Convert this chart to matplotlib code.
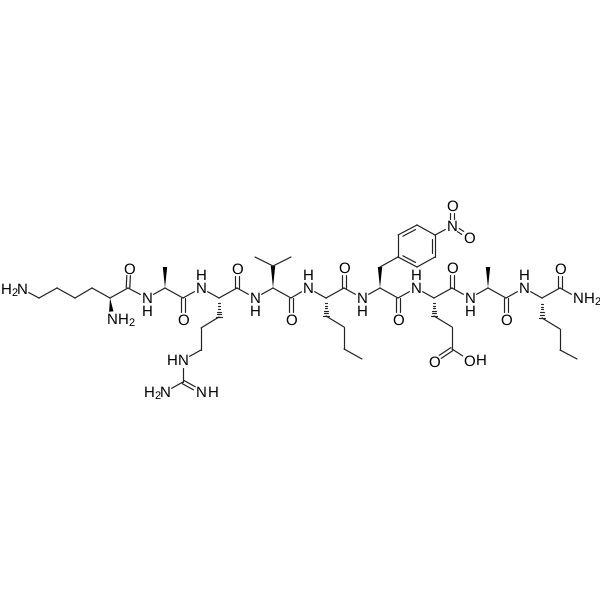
import math
import matplotlib
matplotlib.use("Agg")
import matplotlib.pyplot as plt

plt.rcParams['font.family'] = ['Liberation Sans', 'DejaVu Sans']
plt.rcParams['text.hinting'] = 'no_hinting'
plt.rcParams['text.hinting_factor'] = 1

atoms = {
 'N1':(22,289),'c1':(39,298),'c2':(57,288),'c3':(75,298),'c4':(92,288),'a1':(110,298),'N1a':(112,319),
 'C1':(128,288),'O1':(129,268),'N2':(147,298),
 'a2':(165,288),'m2':(165,267),'C2':(183,298),'O2':(183,319),'N3':(201,288),
 'a3':(219,298),'C3':(237,288),'O3':(237,268),'r1':(219,317),'r2':(201,328),'r3':(201,350),
 'Ng':(183,360),'Cg':(183,382),'Ng2':(165,392),'Ng3':(201,392),
 'N4':(255,298),'a4':(273,288),'v1':(273,266),'v2':(255,257),'v3':(291,257),
 'C4':(291,298),'O4':(291,319),'N5':(308,288),
 'a5':(326,298),'C5':(344,288),'O5':(344,267),'n1':(326,316),'n2':(344,327),'n3':(344,349),'n4':(362,359),
 'N6':(362,298),'a6':(380,288),'b6':(380,267),
 'r6a':(398,257),'r6b':(398,235),'r6c':(417,225),'r6d':(435,235),'r6e':(435,257),'r6f':(417,267),
 'Nn':(452,226),'On1':(452,205),'On2':(469,237),
 'C6':(398,298),'O6':(398,319),'N7':(416,288),
 'a7':(434,298),'C7':(452,288),'O7':(452,267),'g1':(434,316),'g2':(452,327),'g3':(452,349),
 'Og1':(434,361),'Og2':(469,360),
 'N8':(470,298),'a8':(488,288),'m8':(488,267),'C8':(506,298),'O8':(506,319),'N9':(524,288),
 'a9':(542,298),'C9':(560,288),'O9':(560,268),'N10':(578,298),
 's1':(542,318),'s2':(560,329),'s3':(560,350),'s4':(577,359),
}

single_bonds = [
 ('N1','c1'),('c1','c2'),('c2','c3'),('c3','c4'),('c4','a1'),('a1','C1'),('C1','N2'),('N2','a2'),
 ('a2','C2'),('C2','N3'),('N3','a3'),('a3','C3'),('C3','N4'),('r1','r2'),('r2','r3'),('r3','Ng'),
 ('Ng','Cg'),('Cg','Ng2'),('N4','a4'),('a4','C4'),('v1','v2'),('v1','v3'),('C4','N5'),('N5','a5'),
 ('a5','C5'),('C5','N6'),('n1','n2'),('n2','n3'),('n3','n4'),('N6','a6'),('a6','C6'),('b6','r6a'),
 ('r6d','Nn'),('C6','N7'),('N7','a7'),('a7','C7'),('C7','N8'),('g1','g2'),('g2','g3'),('g3','Og2'),
 ('N8','a8'),('a8','C8'),('C8','N9'),('N9','a9'),('a9','C9'),('C9','N10'),('s1','s2'),('s2','s3'),('s3','s4'),
 ('r6a','r6b'),('r6b','r6c'),('r6c','r6d'),('r6d','r6e'),('r6e','r6f'),('r6f','r6a'),
]
double_bonds = [('C1','O1'),('C2','O2'),('C3','O3'),('C4','O4'),('C5','O5'),('C6','O6'),('C7','O7'),
 ('C8','O8'),('C9','O9'),('Cg','Ng3'),('Nn','On1'),('Nn','On2'),('g3','Og1')]
ring_inner = [('r6b','r6c'),('r6d','r6e'),('r6f','r6a')]
ring_center = ('r6c','r6f')
wedge_bonds = [('a1','N1a'),('a2','m2'),('a4','v1'),('a6','b6'),('a8','m8')]
hash_bonds = [('a3','r1'),('a5','n1'),('a7','g1'),('a9','s1')]

labels_plain = {'N1':'N','N1a':'N','O1':'O','N2':'N','O2':'O','N3':'N','O3':'O','Ng':'N','Ng2':'N','Ng3':'N',
 'N4':'N','O4':'O','N5':'N','O5':'O','N6':'N','Nn':'N','On1':'O','On2':'O','O6':'O','N7':'N','O7':'O',
 'Og1':'O','Og2':'O','N8':'N','O8':'O','N9':'N','O9':'O','N10':'N'}
h_below = ['N2','N4','N6','N8']
h_above = ['N3','N5','N7','N9']
h_left = ['Ng']
h_right = ['Ng3','Og2']
h2_right = ['N1a','N10']
h2_left = ['N1','Ng2']

fig = plt.figure(figsize=(6,6), dpi=100)
ax = fig.add_axes([0,0,1,1])
ax.set_xlim(0,600); ax.set_ylim(600,0); ax.axis('off')

INK = '#222222'
LW = 0.85
GAP = 7.5

def ends(a, b):
    (x1,y1),(x2,y2) = atoms[a],atoms[b]
    L = math.hypot(x2-x1,y2-y1); ux,uy = (x2-x1)/L,(y2-y1)/L
    g1 = GAP if a in labels_plain else 0
    g2 = GAP if b in labels_plain else 0
    return x1+ux*g1,y1+uy*g1,x2-ux*g2,y2-uy*g2,ux,uy

def seg(x1,y1,x2,y2):
    ax.plot([x1,x2],[y1,y2],color=INK,lw=LW,solid_capstyle='round')

for a,b in single_bonds:
    x1,y1,x2,y2,_,_ = ends(a,b)
    seg(x1,y1,x2,y2)

for a,b in double_bonds:
    x1,y1,x2,y2,ux,uy = ends(a,b)
    d = 1.8
    for s in (-1,1):
        seg(x1-uy*d*s,y1+ux*d*s,x2-uy*d*s,y2+ux*d*s)

cx = (atoms[ring_center[0]][0]+atoms[ring_center[1]][0])/2
cy = (atoms[ring_center[0]][1]+atoms[ring_center[1]][1])/2
for a,b in ring_inner:
    (x1,y1),(x2,y2) = atoms[a],atoms[b]
    f = 0.82
    p = [(cx+(x-cx)*f, cy+(y-cy)*f) for x,y in ((x1,y1),(x2,y2))]
    mx,my = (p[0][0]+p[1][0])/2,(p[0][1]+p[1][1])/2
    q = [(mx+(x-mx)*0.82, my+(y-my)*0.82) for x,y in p]
    seg(q[0][0],q[0][1],q[1][0],q[1][1])

for a,b in wedge_bonds:
    x1,y1,x2,y2,ux,uy = ends(a,b)
    w = 2.2
    ax.fill([x1,x2-uy*w,x2+uy*w],[y1,y2+ux*w,y2-ux*w],color='black',lw=0)

for a,b in hash_bonds:
    x1,y1,x2,y2,ux,uy = ends(a,b)
    n = 7
    for i in range(1,n+1):
        t = i/n
        w = 2.6*t
        xm,ym = x1+(x2-x1)*t,y1+(y2-y1)*t
        seg(xm-uy*w,ym+ux*w,xm+uy*w,ym-ux*w)

FS = 11
SUB = 8
def txt(x,y,s,fs=FS):
    ax.text(x,y,s,fontsize=fs,ha='center',va='center_baseline',color='black')

for k,s in labels_plain.items():
    x,y = atoms[k]
    txt(x,y,s)
for k in h_below:
    x,y = atoms[k]; txt(x,y+12.5,'H')
for k in h_above:
    x,y = atoms[k]; txt(x,y-13,'H')
for k in h_left:
    x,y = atoms[k]; txt(x-11,y,'H')
for k in h_right:
    x,y = atoms[k]; txt(x+12,y,'H')
for k in h2_right:
    x,y = atoms[k]; txt(x+11.5,y,'H'); txt(x+19.5,y+3.5,'2',SUB)
for k in h2_left:
    x,y = atoms[k]; txt(x-7.5,y+3.5,'2',SUB); txt(x-15.5,y,'H')

fig.savefig('out.png',dpi=100,facecolor='white')
